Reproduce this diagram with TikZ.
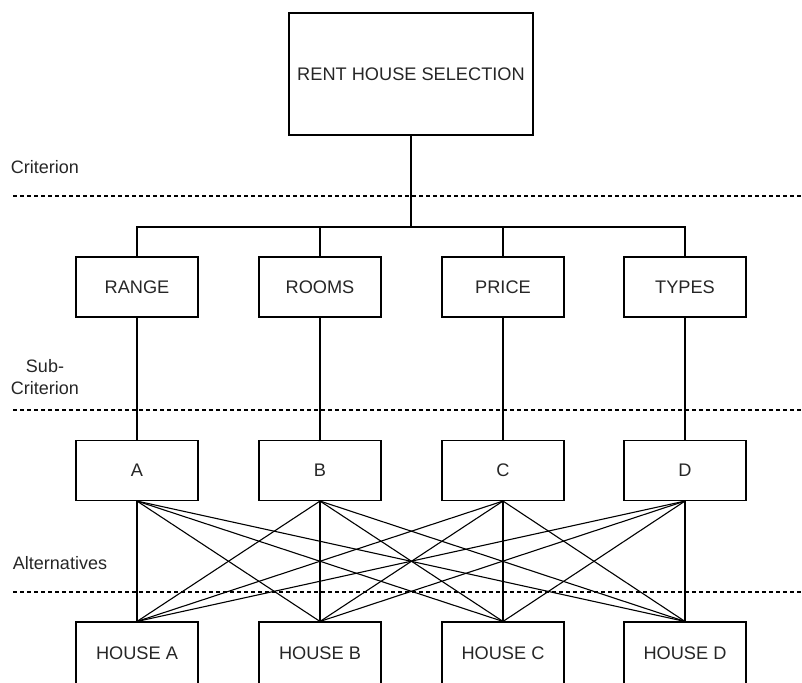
\documentclass[tikz,border=0pt]{standalone}
\usepackage{fontspec}
\setmainfont{Liberation Sans}
\begin{document}
\begin{tikzpicture}[x=1pt,y=-1pt,
  box/.style={draw, line width=1.1pt, minimum width=122pt, minimum height=60pt, inner sep=0pt,
    font=\fontsize{18.2}{22}\selectfont, text=black!85},
  lbl/.style={font=\fontsize{18}{22}\selectfont, text=black!85, align=center, inner sep=0pt},
  conn/.style={line width=1.1pt},
  sep/.style={line width=1.1pt, dash pattern=on 4pt off 3pt}]
\useasboundingbox (0,0) rectangle (802,682);

% top node
\node[box, minimum width=244pt, minimum height=122pt] (top) at (411,74) {RENT HOUSE SELECTION};

% criteria
\node[box] (range) at (137,287) {RANGE};
\node[box] (rooms) at (320,287) {ROOMS};
\node[box] (price) at (503,287) {PRICE};
\node[box] (types) at (685,287) {TYPES};

% sub-criteria
\node[box] (a) at (137,470.5) {A};
\node[box] (b) at (320,470.5) {B};
\node[box] (c) at (503,470.5) {C};
\node[box] (d) at (685,470.5) {D};

% alternatives
\node[box, minimum height=62pt] (ha) at (137,653) {HOUSE A};
\node[box, minimum height=62pt] (hb) at (320,653) {HOUSE B};
\node[box, minimum height=62pt] (hc) at (503,653) {HOUSE C};
\node[box, minimum height=62pt] (hd) at (685,653) {HOUSE D};

% level labels
\node[lbl] (lcrit) at (45,167) {Criterion};
\node[lbl] (lsub) at (45,377) {Sub-\\Criterion};
\node[lbl] (lalt) at (60,563) {Alternatives};

% dashed separators
\coordinate (s1l) at (13,196); \coordinate (s1r) at (802,196);
\coordinate (s2l) at (13,410); \coordinate (s2r) at (802,410);
\coordinate (s3l) at (13,592); \coordinate (s3r) at (802,592);
\draw[sep] (s1l) -- (s1r);
\draw[sep] (s2l) -- (s2r);
\draw[sep] (s3l) -- (s3r);

% tree connectors
\coordinate (j) at (411,227);
\draw[conn] (top.south) -- (j);
\foreach \n in {range,rooms,price,types}
  \draw[conn] (j) -| (\n.north);

% criteria to sub-criteria
\draw[conn] (range.south) -- (a.north);
\draw[conn] (rooms.south) -- (b.north);
\draw[conn] (price.south) -- (c.north);
\draw[conn] (types.south) -- (d.north);

% full mesh
\foreach \s in {a,b,c,d}
  \foreach \t in {ha,hb,hc,hd}
    \draw[conn] (\s.south) -- (\t.north);
\end{tikzpicture}
\end{document}
